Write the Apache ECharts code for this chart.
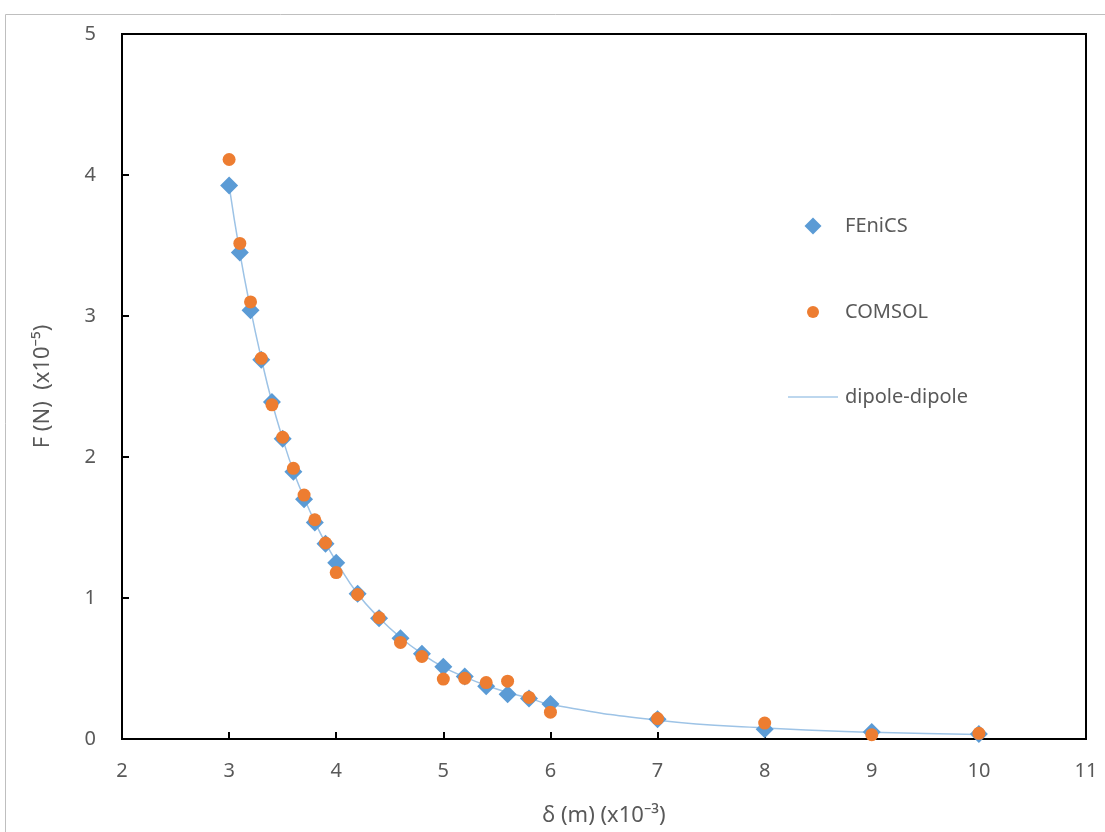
<!DOCTYPE html>
<html>
<head>
<meta charset="utf-8">
<script src="https://cdn.jsdelivr.net/npm/echarts@6/dist/echarts.min.js"></script>
<style>
  html, body { margin: 0; padding: 0; background: #fff; }
  #chart { width: 1105px; height: 832px; }
</style>
</head>
<body>
<div id="chart"></div>
<script>
// δ (x10^-3 m)
var fenicsX = [3.0, 3.1, 3.2, 3.3, 3.4, 3.5, 3.6, 3.7, 3.8, 3.9, 4.0, 4.2, 4.4, 4.6, 4.8, 5.0, 5.2, 5.4, 5.6, 5.8, 6.0, 7, 8, 9, 10];
// F (x10^-5 N)
var fenicsY = [3.925, 3.45, 3.04, 2.69, 2.39, 2.13, 1.895, 1.70, 1.535, 1.385, 1.25, 1.03, 0.856, 0.714, 0.605, 0.513, 0.443, 0.375, 0.318, 0.287, 0.248, 0.14, 0.07, 0.05, 0.035];

var comsolX = [3.0, 3.1, 3.2, 3.3, 3.4, 3.5, 3.6, 3.7, 3.8, 3.9, 4.0, 4.2, 4.4, 4.6, 4.8, 5.0, 5.2, 5.4, 5.6, 5.8, 6.0, 7, 8, 9, 10];
var comsolY = [4.11, 3.515, 3.10, 2.70, 2.37, 2.14, 1.92, 1.73, 1.555, 1.39, 1.18, 1.025, 0.86, 0.685, 0.585, 0.425, 0.43, 0.40, 0.41, 0.295, 0.19, 0.145, 0.113, 0.03, 0.04];

var dipoleX = [3.0, 3.1, 3.2, 3.3, 3.4, 3.5, 3.6, 3.7, 3.8, 3.9, 4.0, 4.2, 4.4, 4.6, 4.8, 5.0, 5.2, 5.4, 5.6, 5.8, 6.0, 7, 8, 9, 10];
var dipoleY = [3.925, 3.45, 3.05, 2.70, 2.39, 2.13, 1.90, 1.71, 1.54, 1.39, 1.26, 1.03, 0.86, 0.72, 0.605, 0.51, 0.44, 0.38, 0.33, 0.29, 0.245, 0.133, 0.078, 0.048, 0.032];

var xTicks = { min: 2, max: 11, interval: 1 };
var yTicks = { min: 0, max: 5, interval: 1 };

function pairs(xs, ys) {
  return xs.map(function (x, i) { return [x, ys[i]]; });
}

var textColor = '#595959';
var fontFamily = '"Noto Sans", "DejaVu Sans", sans-serif';

// one legend per entry so each icon gets its own size; text lines up at x=840
function legendFor(name, icon, w, h, cy) {
  var left = 808 - w / 2;
  return {
    orient: 'vertical',
    left: left,
    top: cy - 14,
    itemWidth: w,
    itemHeight: h,
    textStyle: {
      color: textColor, fontSize: 20, fontFamily: fontFamily,
      padding: [0, 0, 0, 840 - (left + w + 5)]
    },
    data: [{ name: name, icon: icon }]
  };
}

var chart = echarts.init(document.getElementById('chart'));
chart.setOption({
  animation: false,
  textStyle: { fontFamily: fontFamily },
  graphic: [{
    type: 'rect',
    shape: { x: 5.5, y: 14.5, width: 1200, height: 900 },
    style: { fill: 'none', stroke: '#bfbfbf', lineWidth: 1 },
    silent: true,
    z: -1
  }],
  grid: {
    left: 122, top: 34, right: 19, bottom: 91,
    show: true, borderColor: '#000', borderWidth: 2
  },
  legend: [
    legendFor('FEniCS', 'diamond', 17, 17, 225),
    legendFor('COMSOL', 'circle', 12, 12, 311),
    legendFor('dipole-dipole', 'path://M0,0L50,0L50,2L0,2Z', 50, 14, 396)
  ],
  xAxis: {
    type: 'value',
    min: xTicks.min, max: xTicks.max, interval: xTicks.interval,
    name: 'δ (m) (x10⁻³)',
    nameLocation: 'middle',
    nameGap: 66,
    nameTextStyle: { color: textColor, fontSize: 22 },
    axisLine: { show: true, lineStyle: { color: '#000', width: 2 } },
    axisTick: { show: true, inside: true, length: 7, lineStyle: { color: '#000', width: 2 } },
    axisLabel: { color: textColor, fontSize: 20, margin: 22 },
    splitLine: { show: false }
  },
  yAxis: {
    type: 'value',
    min: yTicks.min, max: yTicks.max, interval: yTicks.interval,
    name: 'F (N)  (x10⁻⁵)',
    nameLocation: 'middle',
    nameGap: 68,
    nameTextStyle: { color: textColor, fontSize: 22 },
    axisLine: { show: true, lineStyle: { color: '#000', width: 2 } },
    axisTick: { show: true, inside: true, length: 7, lineStyle: { color: '#000', width: 2 } },
    axisLabel: { color: textColor, fontSize: 20, margin: 26 },
    splitLine: { show: false }
  },
  series: [
    {
      name: 'dipole-dipole',
      type: 'line',
      smooth: true,
      symbol: 'none',
      data: pairs(dipoleX, dipoleY),
      lineStyle: { color: '#9dc3e6', width: 1.5 },
      itemStyle: { color: '#bdd7ee' },
      z: 1
    },
    {
      name: 'FEniCS',
      type: 'scatter',
      symbol: 'diamond',
      symbolSize: [18, 18],
      data: pairs(fenicsX, fenicsY),
      itemStyle: { color: '#5b9bd5', opacity: 1 },
      z: 2
    },
    {
      name: 'COMSOL',
      type: 'scatter',
      symbol: 'circle',
      symbolSize: 13,
      data: pairs(comsolX, comsolY),
      itemStyle: { color: '#ed7d31', opacity: 1 },
      z: 3
    }
  ]
});
</script>
</body>
</html>
